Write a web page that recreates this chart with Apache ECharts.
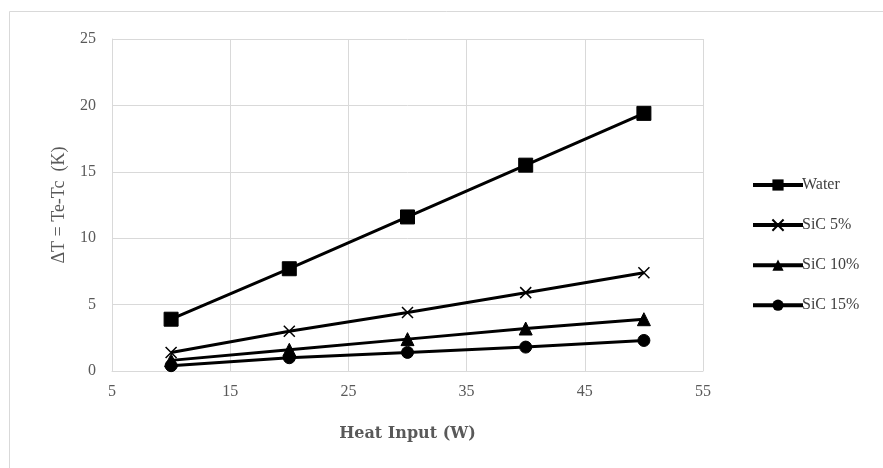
<!DOCTYPE html>
<html>
<head>
<meta charset="utf-8">
<script src="https://cdn.jsdelivr.net/npm/echarts@6/dist/echarts.min.js"></script>
<style>
html,body{margin:0;padding:0;background:#fff;}
#c{width:883px;height:468px;}
</style>
</head>
<body>
<div id="c"></div>
<script>
const heatInput = [10, 20, 30, 40, 50];
const water = [3.9, 7.7, 11.6, 15.5, 19.4];
const sic5 = [1.4, 3.0, 4.4, 5.9, 7.4];
const sic10 = [0.8, 1.6, 2.4, 3.2, 3.9];
const sic15 = [0.4, 1.0, 1.4, 1.8, 2.3];
const seriesNames = ['Water', 'SiC 5%', 'SiC 10%', 'SiC 15%'];

const pairs = arr => heatInput.map((x, i) => [x, arr[i]]);
const serif = '"Liberation Serif", "DejaVu Serif", serif';
const chart = echarts.init(document.getElementById('c'));
const mk = (name, data, symbol, size) => ({
  name, type: 'line', data: pairs(data), symbol, symbolSize: size,
  lineStyle: { color: '#000', width: 3 },
  itemStyle: { color: '#000', borderColor: '#000' },
  emphasis: { disabled: true }
});
const crossPath = 'path://M0,0 L10,10 M10,0 L0,10';
chart.setOption({
  animation: false,
  graphic: [{
    type: 'rect', shape: { x: 9.5, y: 11.5, width: 880, height: 470 },
    style: { fill: 'none', stroke: '#d9d9d9', lineWidth: 1 }
  }],
  grid: { left: 112, right: 180, top: 39, bottom: 97 },
  legend: {
    orient: 'vertical', left: 746, top: 172, itemWidth: 50, itemHeight: 14, itemGap: 24,
    lineStyle: { width: 4 },
    textStyle: { fontFamily: serif, fontSize: 16, color: '#404040', padding: [0, 0, 0, -6] },
    data: seriesNames
  },
  xAxis: {
    type: 'value', min: 5, max: 55, interval: 10,
    name: 'Heat Input (W)', nameLocation: 'middle', nameGap: 55,
    nameTextStyle: { fontFamily: '"DejaVu Serif", serif', fontSize: 16, fontWeight: 'bold', color: '#595959' },
    axisLine: { show: true, lineStyle: { color: '#d9d9d9', width: 1 } },
    axisTick: { show: false },
    axisLabel: { fontFamily: serif, fontSize: 16, color: '#595959', margin: 13 },
    splitLine: { show: true, lineStyle: { color: '#d9d9d9', width: 1 } }
  },
  yAxis: {
    type: 'value', min: 0, max: 25, interval: 5,
    name: 'ΔT = Te-Tc  (K)', nameLocation: 'middle', nameGap: 44,
    nameTextStyle: { fontFamily: serif, fontSize: 18, color: '#595959' },
    axisLine: { show: true, lineStyle: { color: '#d9d9d9', width: 1 } },
    axisTick: { show: false },
    axisLabel: { fontFamily: serif, fontSize: 16, color: '#595959', margin: 16 },
    splitLine: { show: true, lineStyle: { color: '#d9d9d9', width: 1 } }
  },
  series: [
    mk(seriesNames[0], water, 'rect', 14),
    Object.assign(mk(seriesNames[1], sic5, crossPath, 11), { itemStyle: { color: 'none', borderColor: '#000', borderWidth: 1.5 } }),
    mk(seriesNames[2], sic10, 'triangle', 13),
    mk(seriesNames[3], sic15, 'circle', 12)
  ]
});
</script>
</body>
</html>
